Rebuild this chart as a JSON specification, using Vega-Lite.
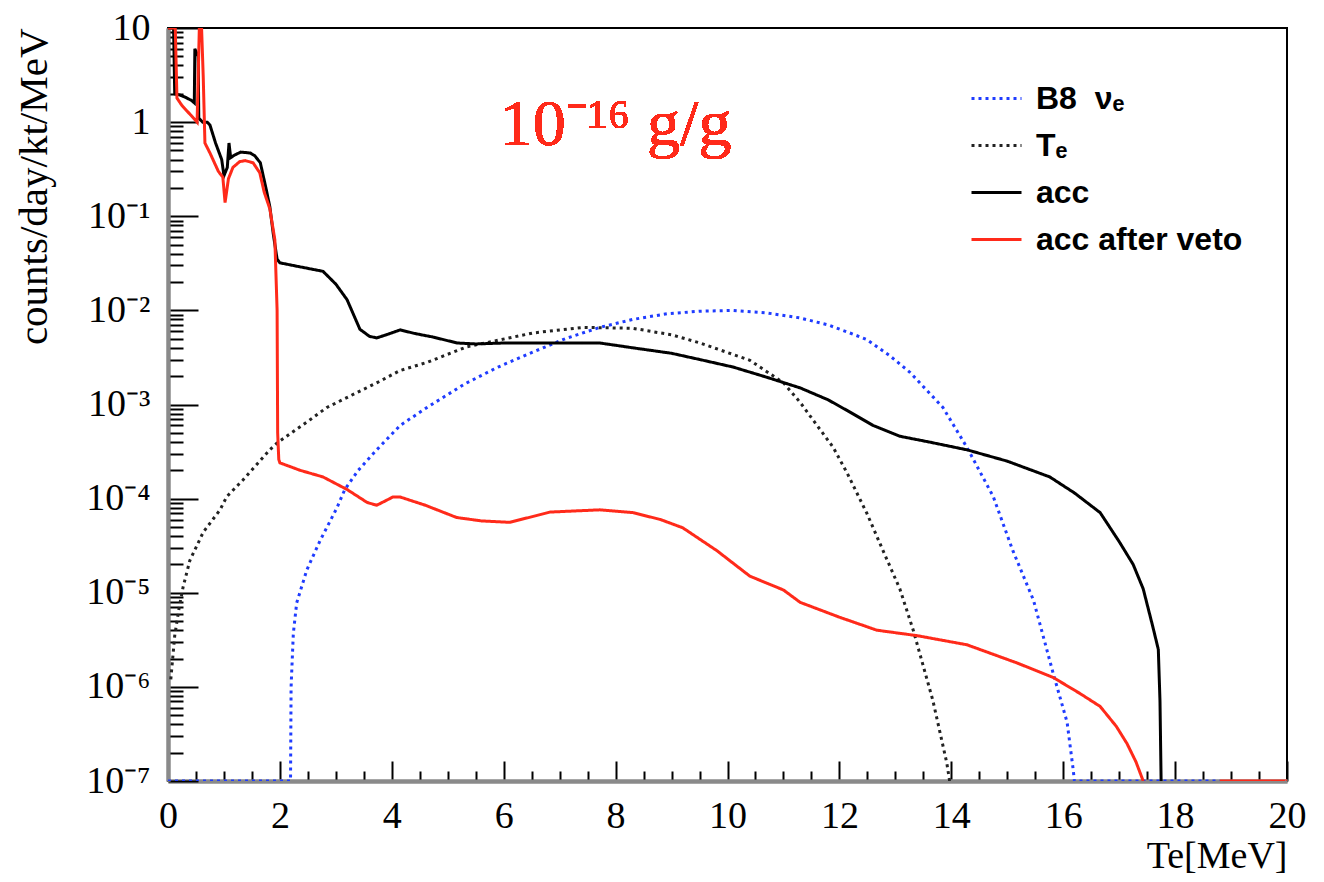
{
  "$schema": "https://vega.github.io/schema/vega-lite/v6.json",
  "width": 1119,
  "height": 753,
  "autosize": {"type": "none"},
  "padding": {"left": 168, "top": 28, "right": 37, "bottom": 101},
  "background": "white",
  "data": {"values": [
    {"s": "B8\u00a0\u00a0ν\u2091", "p": 1, "x": 0, "y": 1e-7},
    {"s": "B8\u00a0\u00a0ν\u2091", "p": 1, "x": 2.19, "y": 1e-7},
    {"s": "B8\u00a0\u00a0ν\u2091", "p": 1, "x": 2.2, "y": 1e-6},
    {"s": "B8\u00a0\u00a0ν\u2091", "p": 1, "x": 2.24, "y": 3.7e-6},
    {"s": "B8\u00a0\u00a0ν\u2091", "p": 1, "x": 2.3, "y": 7.8e-6},
    {"s": "B8\u00a0\u00a0ν\u2091", "p": 1, "x": 2.48, "y": 1.74e-5},
    {"s": "B8\u00a0\u00a0ν\u2091", "p": 1, "x": 2.72, "y": 3.6e-5},
    {"s": "B8\u00a0\u00a0ν\u2091", "p": 1, "x": 3.02, "y": 8.0e-5},
    {"s": "B8\u00a0\u00a0ν\u2091", "p": 1, "x": 3.16, "y": 1.25e-4},
    {"s": "B8\u00a0\u00a0ν\u2091", "p": 1, "x": 3.4, "y": 2.0e-4},
    {"s": "B8\u00a0\u00a0ν\u2091", "p": 1, "x": 3.73, "y": 3.3e-4},
    {"s": "B8\u00a0\u00a0ν\u2091", "p": 1, "x": 4.15, "y": 6.0e-4},
    {"s": "B8\u00a0\u00a0ν\u2091", "p": 1, "x": 4.63, "y": 9.3e-4},
    {"s": "B8\u00a0\u00a0ν\u2091", "p": 1, "x": 5.3, "y": 1.65e-3},
    {"s": "B8\u00a0\u00a0ν\u2091", "p": 1, "x": 5.9, "y": 2.5e-3},
    {"s": "B8\u00a0\u00a0ν\u2091", "p": 1, "x": 6.52, "y": 3.6e-3},
    {"s": "B8\u00a0\u00a0ν\u2091", "p": 1, "x": 7.1, "y": 5.0e-3},
    {"s": "B8\u00a0\u00a0ν\u2091", "p": 1, "x": 7.72, "y": 6.6e-3},
    {"s": "B8\u00a0\u00a0ν\u2091", "p": 1, "x": 8.3, "y": 8.0e-3},
    {"s": "B8\u00a0\u00a0ν\u2091", "p": 1, "x": 8.92, "y": 9.2e-3},
    {"s": "B8\u00a0\u00a0ν\u2091", "p": 1, "x": 9.5, "y": 9.8e-3},
    {"s": "B8\u00a0\u00a0ν\u2091", "p": 1, "x": 10.1, "y": 1.0e-2},
    {"s": "B8\u00a0\u00a0ν\u2091", "p": 1, "x": 10.7, "y": 9.4e-3},
    {"s": "B8\u00a0\u00a0ν\u2091", "p": 1, "x": 11.3, "y": 8.3e-3},
    {"s": "B8\u00a0\u00a0ν\u2091", "p": 1, "x": 11.8, "y": 7.0e-3},
    {"s": "B8\u00a0\u00a0ν\u2091", "p": 1, "x": 12.19, "y": 5.75e-3},
    {"s": "B8\u00a0\u00a0ν\u2091", "p": 1, "x": 12.49, "y": 4.9e-3},
    {"s": "B8\u00a0\u00a0ν\u2091", "p": 1, "x": 12.9, "y": 3.3e-3},
    {"s": "B8\u00a0\u00a0ν\u2091", "p": 1, "x": 13.26, "y": 2.2e-3},
    {"s": "B8\u00a0\u00a0ν\u2091", "p": 1, "x": 13.85, "y": 9.3e-4},
    {"s": "B8\u00a0\u00a0ν\u2091", "p": 1, "x": 14.28, "y": 3.5e-4},
    {"s": "B8\u00a0\u00a0ν\u2091", "p": 1, "x": 14.75, "y": 1.05e-4},
    {"s": "B8\u00a0\u00a0ν\u2091", "p": 1, "x": 15.1, "y": 2.8e-5},
    {"s": "B8\u00a0\u00a0ν\u2091", "p": 1, "x": 15.47, "y": 8.3e-6},
    {"s": "B8\u00a0\u00a0ν\u2091", "p": 1, "x": 15.82, "y": 1.4e-6},
    {"s": "B8\u00a0\u00a0ν\u2091", "p": 1, "x": 16.07, "y": 4.2e-7},
    {"s": "B8\u00a0\u00a0ν\u2091", "p": 1, "x": 16.18, "y": 1.3e-7},
    {"s": "B8\u00a0\u00a0ν\u2091", "p": 1, "x": 16.2, "y": 1e-7},
    {"s": "B8\u00a0\u00a0ν\u2091", "p": 1, "x": 18.8, "y": 1e-7},

    {"s": "T\u2091", "p": 1, "x": 0.05, "y": 1.2e-6},
    {"s": "T\u2091", "p": 1, "x": 0.12, "y": 3.5e-6},
    {"s": "T\u2091", "p": 1, "x": 0.2, "y": 7e-6},
    {"s": "T\u2091", "p": 1, "x": 0.27, "y": 1.15e-5},
    {"s": "T\u2091", "p": 1, "x": 0.39, "y": 2.2e-5},
    {"s": "T\u2091", "p": 1, "x": 0.63, "y": 4.4e-5},
    {"s": "T\u2091", "p": 1, "x": 0.93, "y": 7.6e-5},
    {"s": "T\u2091", "p": 1, "x": 1.05, "y": 1.05e-4},
    {"s": "T\u2091", "p": 1, "x": 1.34, "y": 1.58e-4},
    {"s": "T\u2091", "p": 1, "x": 1.82, "y": 3.3e-4},
    {"s": "T\u2091", "p": 1, "x": 1.95, "y": 3.9e-4},
    {"s": "T\u2091", "p": 1, "x": 2.54, "y": 6.9e-4},
    {"s": "T\u2091", "p": 1, "x": 2.84, "y": 9.3e-4},
    {"s": "T\u2091", "p": 1, "x": 3.73, "y": 1.7e-3},
    {"s": "T\u2091", "p": 1, "x": 4.15, "y": 2.3e-3},
    {"s": "T\u2091", "p": 1, "x": 4.63, "y": 2.8e-3},
    {"s": "T\u2091", "p": 1, "x": 5.34, "y": 4.1e-3},
    {"s": "T\u2091", "p": 1, "x": 6.52, "y": 5.75e-3},
    {"s": "T\u2091", "p": 1, "x": 7.42, "y": 6.6e-3},
    {"s": "T\u2091", "p": 1, "x": 8.31, "y": 6.45e-3},
    {"s": "T\u2091", "p": 1, "x": 9.0, "y": 5.5e-3},
    {"s": "T\u2091", "p": 1, "x": 9.51, "y": 4.5e-3},
    {"s": "T\u2091", "p": 1, "x": 10.4, "y": 2.95e-3},
    {"s": "T\u2091", "p": 1, "x": 11.0, "y": 1.7e-3},
    {"s": "T\u2091", "p": 1, "x": 11.3, "y": 1.05e-3},
    {"s": "T\u2091", "p": 1, "x": 11.6, "y": 6.0e-4},
    {"s": "T\u2091", "p": 1, "x": 11.89, "y": 3.5e-4},
    {"s": "T\u2091", "p": 1, "x": 12.14, "y": 1.86e-4},
    {"s": "T\u2091", "p": 1, "x": 12.49, "y": 7.0e-5},
    {"s": "T\u2091", "p": 1, "x": 12.78, "y": 2.8e-5},
    {"s": "T\u2091", "p": 1, "x": 13.08, "y": 1.1e-5},
    {"s": "T\u2091", "p": 1, "x": 13.32, "y": 4.0e-6},
    {"s": "T\u2091", "p": 1, "x": 13.67, "y": 7.2e-7},
    {"s": "T\u2091", "p": 1, "x": 13.92, "y": 1.55e-7},
    {"s": "T\u2091", "p": 1, "x": 13.97, "y": 1e-7},

    {"s": "acc", "p": 1, "x": 0.0, "y": 10},
    {"s": "acc", "p": 1, "x": 0.1, "y": 10},
    {"s": "acc", "p": 1, "x": 0.12, "y": 2.0},
    {"s": "acc", "p": 1, "x": 0.2, "y": 1.95},
    {"s": "acc", "p": 1, "x": 0.3, "y": 1.85},
    {"s": "acc", "p": 1, "x": 0.42, "y": 1.7},
    {"s": "acc", "p": 1, "x": 0.47, "y": 1.6},
    {"s": "acc", "p": 1, "x": 0.48, "y": 6},
    {"s": "acc", "p": 1, "x": 0.54, "y": 5},
    {"s": "acc", "p": 1, "x": 0.55, "y": 1.1},
    {"s": "acc", "p": 1, "x": 0.62, "y": 1.0},
    {"s": "acc", "p": 1, "x": 0.7, "y": 1.0},
    {"s": "acc", "p": 1, "x": 0.75, "y": 0.93},
    {"s": "acc", "p": 1, "x": 0.85, "y": 0.6},
    {"s": "acc", "p": 1, "x": 0.96, "y": 0.4},
    {"s": "acc", "p": 1, "x": 1.0, "y": 0.27},
    {"s": "acc", "p": 1, "x": 1.06, "y": 0.33},
    {"s": "acc", "p": 1, "x": 1.09, "y": 0.6},
    {"s": "acc", "p": 1, "x": 1.12, "y": 0.42},
    {"s": "acc", "p": 1, "x": 1.2, "y": 0.45},
    {"s": "acc", "p": 1, "x": 1.3, "y": 0.48},
    {"s": "acc", "p": 1, "x": 1.47, "y": 0.47},
    {"s": "acc", "p": 1, "x": 1.55, "y": 0.44},
    {"s": "acc", "p": 1, "x": 1.65, "y": 0.37},
    {"s": "acc", "p": 1, "x": 1.75, "y": 0.2},
    {"s": "acc", "p": 1, "x": 1.82, "y": 0.126},
    {"s": "acc", "p": 1, "x": 1.88, "y": 0.066},
    {"s": "acc", "p": 1, "x": 1.95, "y": 0.035},
    {"s": "acc", "p": 1, "x": 2.0, "y": 0.032},
    {"s": "acc", "p": 1, "x": 2.36, "y": 0.029},
    {"s": "acc", "p": 1, "x": 2.77, "y": 0.026},
    {"s": "acc", "p": 1, "x": 3.0, "y": 0.019},
    {"s": "acc", "p": 1, "x": 3.2, "y": 0.013},
    {"s": "acc", "p": 1, "x": 3.43, "y": 0.0063},
    {"s": "acc", "p": 1, "x": 3.6, "y": 0.0053},
    {"s": "acc", "p": 1, "x": 3.73, "y": 0.0051},
    {"s": "acc", "p": 1, "x": 3.9, "y": 0.0055},
    {"s": "acc", "p": 1, "x": 4.15, "y": 0.0062},
    {"s": "acc", "p": 1, "x": 4.4, "y": 0.0057},
    {"s": "acc", "p": 1, "x": 4.74, "y": 0.0052},
    {"s": "acc", "p": 1, "x": 5.17, "y": 0.0045},
    {"s": "acc", "p": 1, "x": 5.5, "y": 0.0044},
    {"s": "acc", "p": 1, "x": 6.0, "y": 0.0045},
    {"s": "acc", "p": 1, "x": 7.0, "y": 0.0045},
    {"s": "acc", "p": 1, "x": 7.72, "y": 0.0045},
    {"s": "acc", "p": 1, "x": 8.31, "y": 0.004},
    {"s": "acc", "p": 1, "x": 9.0, "y": 0.0035},
    {"s": "acc", "p": 1, "x": 9.51, "y": 0.003},
    {"s": "acc", "p": 1, "x": 10.1, "y": 0.0025},
    {"s": "acc", "p": 1, "x": 10.7, "y": 0.00195},
    {"s": "acc", "p": 1, "x": 11.3, "y": 0.0015},
    {"s": "acc", "p": 1, "x": 11.8, "y": 0.00112},
    {"s": "acc", "p": 1, "x": 12.19, "y": 0.00083},
    {"s": "acc", "p": 1, "x": 12.6, "y": 0.0006},
    {"s": "acc", "p": 1, "x": 13.08, "y": 0.00046},
    {"s": "acc", "p": 1, "x": 13.6, "y": 0.0004},
    {"s": "acc", "p": 1, "x": 14.28, "y": 0.00033},
    {"s": "acc", "p": 1, "x": 15.0, "y": 0.00025},
    {"s": "acc", "p": 1, "x": 15.76, "y": 0.00017},
    {"s": "acc", "p": 1, "x": 16.2, "y": 0.000115},
    {"s": "acc", "p": 1, "x": 16.66, "y": 7.1e-5},
    {"s": "acc", "p": 1, "x": 17.0, "y": 3.5e-5},
    {"s": "acc", "p": 1, "x": 17.25, "y": 2.0e-5},
    {"s": "acc", "p": 1, "x": 17.43, "y": 1.1e-5},
    {"s": "acc", "p": 1, "x": 17.6, "y": 4.4e-6},
    {"s": "acc", "p": 1, "x": 17.7, "y": 2.5e-6},
    {"s": "acc", "p": 1, "x": 17.73, "y": 7e-7},
    {"s": "acc", "p": 1, "x": 17.75, "y": 1e-7},

    {"s": "acc after veto", "p": 1, "x": 0.0, "y": 10},
    {"s": "acc after veto", "p": 1, "x": 0.13, "y": 10},
    {"s": "acc after veto", "p": 1, "x": 0.16, "y": 1.8},
    {"s": "acc after veto", "p": 1, "x": 0.25, "y": 1.5},
    {"s": "acc after veto", "p": 1, "x": 0.4, "y": 1.2},
    {"s": "acc after veto", "p": 1, "x": 0.52, "y": 1.0},
    {"s": "acc after veto", "p": 1, "x": 0.56, "y": 10},
    {"s": "acc after veto", "p": 1, "x": 0.6, "y": 10},
    {"s": "acc after veto", "p": 1, "x": 0.63, "y": 3},
    {"s": "acc after veto", "p": 1, "x": 0.66, "y": 0.6},
    {"s": "acc after veto", "p": 1, "x": 0.75, "y": 0.47},
    {"s": "acc after veto", "p": 1, "x": 0.9, "y": 0.3},
    {"s": "acc after veto", "p": 1, "x": 0.98, "y": 0.26},
    {"s": "acc after veto", "p": 1, "x": 1.02, "y": 0.14},
    {"s": "acc after veto", "p": 1, "x": 1.08, "y": 0.25},
    {"s": "acc after veto", "p": 1, "x": 1.16, "y": 0.33},
    {"s": "acc after veto", "p": 1, "x": 1.28, "y": 0.38},
    {"s": "acc after veto", "p": 1, "x": 1.38, "y": 0.39},
    {"s": "acc after veto", "p": 1, "x": 1.52, "y": 0.37},
    {"s": "acc after veto", "p": 1, "x": 1.64, "y": 0.29},
    {"s": "acc after veto", "p": 1, "x": 1.72, "y": 0.18},
    {"s": "acc after veto", "p": 1, "x": 1.82, "y": 0.12},
    {"s": "acc after veto", "p": 1, "x": 1.91, "y": 0.056},
    {"s": "acc after veto", "p": 1, "x": 1.95, "y": 0.01},
    {"s": "acc after veto", "p": 1, "x": 1.96, "y": 0.0005},
    {"s": "acc after veto", "p": 1, "x": 1.98, "y": 0.00026},
    {"s": "acc after veto", "p": 1, "x": 2.0, "y": 0.00024},
    {"s": "acc after veto", "p": 1, "x": 2.36, "y": 0.0002},
    {"s": "acc after veto", "p": 1, "x": 2.77, "y": 0.00017},
    {"s": "acc after veto", "p": 1, "x": 3.2, "y": 0.000125},
    {"s": "acc after veto", "p": 1, "x": 3.56, "y": 9.1e-5},
    {"s": "acc after veto", "p": 1, "x": 3.73, "y": 8.5e-5},
    {"s": "acc after veto", "p": 1, "x": 4.02, "y": 0.000104},
    {"s": "acc after veto", "p": 1, "x": 4.15, "y": 0.000104},
    {"s": "acc after veto", "p": 1, "x": 4.6, "y": 8.5e-5},
    {"s": "acc after veto", "p": 1, "x": 5.16, "y": 6.3e-5},
    {"s": "acc after veto", "p": 1, "x": 5.6, "y": 5.8e-5},
    {"s": "acc after veto", "p": 1, "x": 6.11, "y": 5.6e-5},
    {"s": "acc after veto", "p": 1, "x": 6.83, "y": 7.2e-5},
    {"s": "acc after veto", "p": 1, "x": 7.72, "y": 7.6e-5},
    {"s": "acc after veto", "p": 1, "x": 8.31, "y": 7.1e-5},
    {"s": "acc after veto", "p": 1, "x": 8.8, "y": 6.0e-5},
    {"s": "acc after veto", "p": 1, "x": 9.2, "y": 4.9e-5},
    {"s": "acc after veto", "p": 1, "x": 9.81, "y": 2.8e-5},
    {"s": "acc after veto", "p": 1, "x": 10.4, "y": 1.5e-5},
    {"s": "acc after veto", "p": 1, "x": 11.0, "y": 1.07e-5},
    {"s": "acc after veto", "p": 1, "x": 11.3, "y": 7.9e-6},
    {"s": "acc after veto", "p": 1, "x": 12.0, "y": 5.5e-6},
    {"s": "acc after veto", "p": 1, "x": 12.67, "y": 4.0e-6},
    {"s": "acc after veto", "p": 1, "x": 13.39, "y": 3.5e-6},
    {"s": "acc after veto", "p": 1, "x": 14.28, "y": 2.8e-6},
    {"s": "acc after veto", "p": 1, "x": 15.17, "y": 1.8e-6},
    {"s": "acc after veto", "p": 1, "x": 15.82, "y": 1.26e-6},
    {"s": "acc after veto", "p": 1, "x": 16.3, "y": 8.5e-7},
    {"s": "acc after veto", "p": 1, "x": 16.66, "y": 6.2e-7},
    {"s": "acc after veto", "p": 1, "x": 16.95, "y": 3.8e-7},
    {"s": "acc after veto", "p": 1, "x": 17.14, "y": 2.5e-7},
    {"s": "acc after veto", "p": 1, "x": 17.3, "y": 1.6e-7},
    {"s": "acc after veto", "p": 1, "x": 17.43, "y": 1e-7},
    {"s": "acc after veto", "p": 2, "x": 18.8, "y": 1e-7},
    {"s": "acc after veto", "p": 2, "x": 20, "y": 1e-7}
  ]},
  "resolve": {"axis": {"x": "independent", "y": "independent"}},
  "layer": [
    {
      "mark": {"type": "line", "strokeWidth": 3, "clip": true, "interpolate": "linear"},
      "encoding": {
        "x": {"field": "x", "type": "quantitative", "scale": {"domain": [0, 20], "nice": false, "zero": false},
          "axis": {"orient": "bottom", "values": [0, 2, 4, 6, 8, 10, 12, 14, 16, 18, 20], "tickSize": -20, "labelPadding": 36, "labelFlush": false, "labelOverlap": false, "title": "Te[MeV]", "titleAnchor": "end", "titlePadding": 2, "zindex": 0}},
        "y": {"field": "y", "type": "quantitative", "scale": {"type": "log", "domain": [1e-7, 10], "nice": false},
          "axis": {"orient": "left", "values": [1e-7, 1e-6, 1e-5, 1e-4, 1e-3, 1e-2, 1e-1, 1, 10], "tickSize": -30, "labelPadding": 48, "labelFlush": false, "labelOverlap": false,
            "labelExpr": "datum.value > 5 ? '10' : datum.value > 0.5 ? '1' : '10\u207b' + ['\u2070','\u00b9','\u00b2','\u00b3','\u2074','\u2075','\u2076','\u2077'][round(-log(datum.value)/LN10)]",
            "title": "counts/day/kt/MeV", "titleAnchor": "end", "titlePadding": 30, "titleFontSize": 41, "zindex": 0}},
        "detail": {"field": "p", "type": "nominal"},
        "color": {"field": "s", "type": "nominal",
          "scale": {"domain": ["B8\u00a0\u00a0ν\u2091", "T\u2091", "acc", "acc after veto"], "range": ["#1f3cff", "#222222", "#000000", "#ff2a1a"]},
          "legend": {"orient": "none", "legendX": 802, "legendY": 44, "title": null, "symbolType": "stroke", "symbolSize": 2500, "symbolStrokeWidth": 3, "labelFont": "Liberation Sans", "labelFontSize": 32, "labelFontWeight": "bold", "labelColor": "#000", "labelOffset": 13, "rowPadding": 4, "labelLimit": 400}},
        "strokeDash": {"field": "s", "type": "nominal",
          "scale": {"domain": ["B8\u00a0\u00a0ν\u2091", "T\u2091", "acc", "acc after veto"], "range": [[3, 4], [3, 4], [1, 0], [1, 0]]},
          "legend": {"orient": "none", "legendX": 802, "legendY": 44, "title": null, "symbolType": "stroke", "symbolSize": 2500, "symbolStrokeWidth": 3, "labelFont": "Liberation Sans", "labelFontSize": 32, "labelFontWeight": "bold", "labelColor": "#000", "labelOffset": 13, "rowPadding": 4, "labelLimit": 400}}
      }
    },
    {
      "mark": {"type": "point", "opacity": 0},
      "encoding": {
        "x": {"field": "x", "type": "quantitative", "scale": {"domain": [0, 20], "nice": false, "zero": false},
          "axis": {"orient": "bottom", "values": [0.5, 1, 1.5, 2.5, 3, 3.5, 4.5, 5, 5.5, 6.5, 7, 7.5, 8.5, 9, 9.5, 10.5, 11, 11.5, 12.5, 13, 13.5, 14.5, 15, 15.5, 16.5, 17, 17.5, 18.5, 19, 19.5], "tickSize": -10, "labels": false, "title": null, "zindex": 0}},
        "y": {"field": "y", "type": "quantitative", "scale": {"type": "log", "domain": [1e-7, 10], "nice": false},
          "axis": {"orient": "left", "values": [2e-7, 3e-7, 4e-7, 5e-7, 6e-7, 7e-7, 8e-7, 9e-7, 2e-6, 3e-6, 4e-6, 5e-6, 6e-6, 7e-6, 8e-6, 9e-6, 2e-5, 3e-5, 4e-5, 5e-5, 6e-5, 7e-5, 8e-5, 9e-5, 2e-4, 3e-4, 4e-4, 5e-4, 6e-4, 7e-4, 8e-4, 9e-4, 0.002, 0.003, 0.004, 0.005, 0.006, 0.007, 0.008, 0.009, 0.02, 0.03, 0.04, 0.05, 0.06, 0.07, 0.08, 0.09, 0.2, 0.3, 0.4, 0.5, 0.6, 0.7, 0.8, 0.9, 2, 3, 4, 5, 6, 7, 8, 9], "tickSize": -15, "labels": false, "title": null, "zindex": 0}}
      }
    },
    {
      "mark": {"type": "text", "font": "Liberation Serif", "fontSize": 66, "color": "#ff2a1a", "align": "left", "baseline": "alphabetic"},
      "encoding": {
        "x": {"datum": 5.93, "type": "quantitative", "scale": {"domain": [0, 20], "nice": false, "zero": false}, "axis": null},
        "y": {"datum": 0.574, "type": "quantitative", "scale": {"type": "log", "domain": [1e-7, 10], "nice": false}, "axis": null},
        "text": {"value": "10\u207b\u00b9\u2076 g/g"}
      }
    }
  ],
  "config": {
    "view": {"stroke": "#000000", "strokeWidth": 2},
    "axis": {"domainColor": "#8a8a8a", "domainWidth": 4, "tickColor": "#000000", "tickWidth": 2, "grid": false,
      "labelFont": "Liberation Serif", "labelFontSize": 38, "labelColor": "#000000",
      "titleFont": "Liberation Serif", "titleFontSize": 38, "titleFontWeight": "normal", "titleColor": "#000000"}
  }
}
